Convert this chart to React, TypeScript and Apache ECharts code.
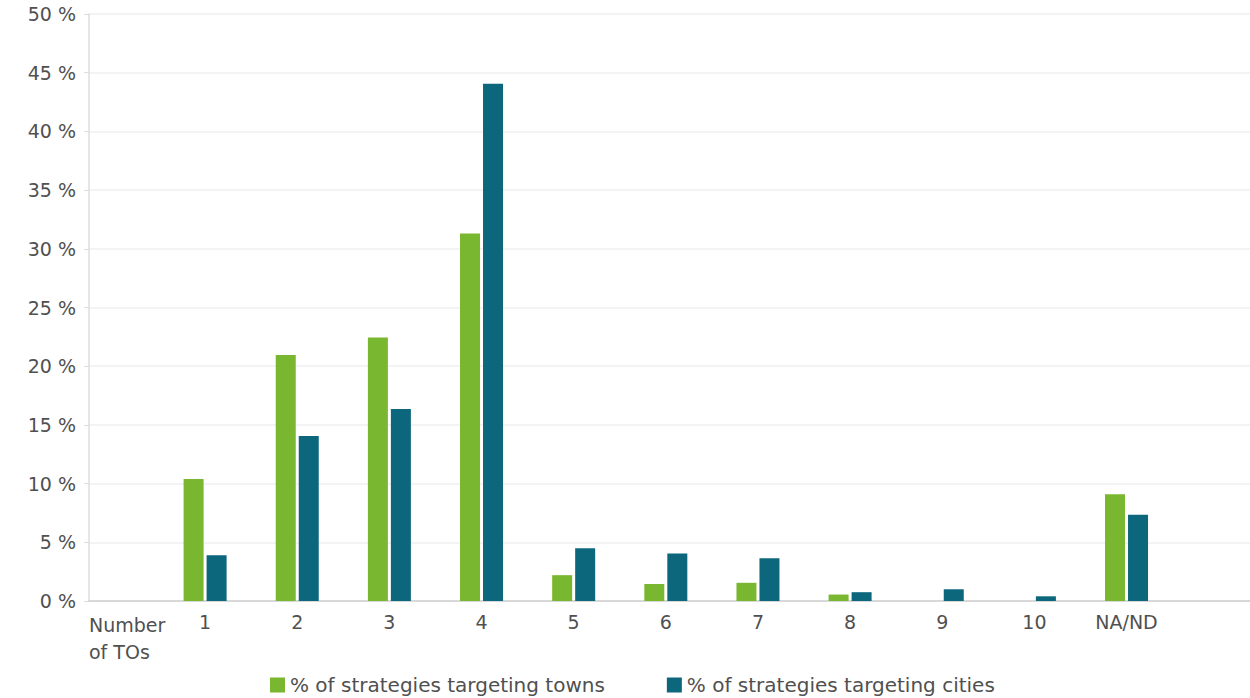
import React, { useEffect, useRef } from "react";
import * as echarts from "echarts";

const categories = ["1", "2", "3", "4", "5", "6", "7", "8", "9", "10", "NA/ND"];
const towns = [10.4, 20.95, 22.45, 31.3, 2.2, 1.45, 1.55, 0.55, 0, 0, 9.1];
const cities = [3.9, 14.05, 16.35, 44.05, 4.5, 4.05, 3.65, 0.75, 1.0, 0.4, 7.35];
const yTicks = [0, 5, 10, 15, 20, 25, 30, 35, 40, 45, 50];
const seriesNames = ["% of strategies targeting towns", "% of strategies targeting cities"];
const axisTitle = "Number\nof TOs";

const FONT = "'DejaVu Sans', sans-serif";
const TEXT = "#505050";

export default function App() {
  const ref = useRef<HTMLDivElement>(null);
  useEffect(() => {
    if (!ref.current) return;
    const chart = echarts.init(ref.current, null, { renderer: "svg" });
    const positions = categories.map((_, i) => i + 1);
    chart.setOption({
      animation: false,
      textStyle: { fontFamily: FONT },
      grid: { left: 89, right: 0, top: 14, bottom: 97, containLabel: false },
      legend: {
        left: 270,
        top: 675,
        padding: 0,
        icon: "rect",
        itemWidth: 15,
        itemHeight: 15,
        itemGap: 62,
        textStyle: { fontSize: 20, lineHeight: 20, color: TEXT, fontFamily: FONT },
        data: seriesNames,
      },
      xAxis: {
        type: "value",
        min: -0.26,
        max: 12.34,
        splitLine: { show: false },
        axisTick: { show: false },
        axisLine: { show: true, onZero: false, lineStyle: { color: "#cfcfcf", width: 1.5 } },
        axisLabel: {
          customValues: positions,
          formatter: (v: number) => categories[Math.round(v) - 1] ?? "",
          fontSize: 19,
          color: TEXT,
          margin: 11,
          fontFamily: FONT,
        },
      },
      yAxis: {
        type: "value",
        min: yTicks[0],
        max: yTicks[yTicks.length - 1],
        interval: 5,
        axisLine: { show: true, onZero: false, lineStyle: { color: "#dedede", width: 1.5 } },
        axisTick: { show: true, length: 5, lineStyle: { color: "#dedede" } },
        splitLine: { show: true, lineStyle: { color: "#efefef", width: 1.5 } },
        axisLabel: {
          formatter: "{value} %",
          fontSize: 19,
          color: TEXT,
          margin: 13,
          fontFamily: FONT,
        },
      },
      graphic: [
        {
          type: "text",
          left: 89,
          top: 611,
          style: {
            text: axisTitle,
            fontSize: 19,
            lineHeight: 27,
            fill: TEXT,
            fontFamily: FONT,
          },
        },
      ],
      series: [
        {
          name: seriesNames[0],
          type: "bar",
          barWidth: 20,
          barGap: "15%",
          itemStyle: { color: "#7AB730" },
          data: towns.map((v, i) => [positions[i], v]),
        },
        {
          name: seriesNames[1],
          type: "bar",
          barWidth: 20,
          barGap: "15%",
          itemStyle: { color: "#0C667C" },
          data: cities.map((v, i) => [positions[i], v]),
        },
      ],
    });
    return () => chart.dispose();
  }, []);
  return (
    <div
      ref={ref}
      style={{ position: "absolute", left: 0, top: 0, width: 1250, height: 698 }}
    />
  );
}
